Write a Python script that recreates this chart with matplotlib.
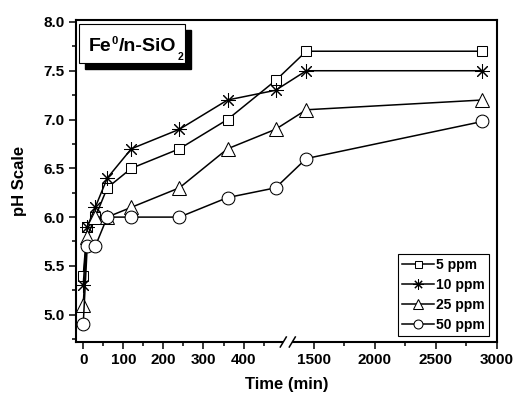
import numpy as np
import matplotlib
matplotlib.use('Agg')
import matplotlib.pyplot as plt
from matplotlib.patches import Rectangle
from matplotlib.ticker import FixedLocator, MultipleLocator, FormatStrFormatter

plt.rcParams['font.family'] = ['Liberation Sans', 'DejaVu Sans']
plt.rcParams['font.weight'] = 'bold'
plt.rcParams['axes.labelweight'] = 'bold'

# --- data (pH vs time, min) ---
time_min = [0, 10, 30, 60, 120, 240, 360, 480, 1440, 2880]
ph_5ppm = [5.4, 5.9, 6.0, 6.3, 6.5, 6.7, 7.0, 7.4, 7.7, 7.7]
ph_10ppm = [5.3, 5.9, 6.1, 6.4, 6.7, 6.9, 7.2, 7.3, 7.5, 7.5]
ph_25ppm = [5.1, 5.8, 6.0, 6.0, 6.1, 6.3, 6.7, 6.9, 7.1, 7.2]
ph_50ppm = [4.9, 5.7, 5.7, 6.0, 6.0, 6.0, 6.2, 6.3, 6.6, 6.98]
labels = ['5 ppm', '10 ppm', '25 ppm', '50 ppm']

x_major = [0, 100, 200, 300, 400, 1500, 2000, 2500, 3000]
x_minor = [50, 150, 250, 350, 450, 1750, 2250, 2750]

# broken axis: 0-510 linear, 510-1290 squeezed, 1290-3000 compressed
BRK_LO, BRK_HI = 510.0, 1290.0
K_RIGHT = 0.305
EPS = 0.001
_xp = np.array([-1e4, BRK_LO, BRK_HI, 1e5])
_fp = np.array([-1e4, BRK_LO, BRK_LO + (BRK_HI - BRK_LO) * EPS,
                BRK_LO + (BRK_HI - BRK_LO) * EPS + (1e5 - BRK_HI) * K_RIGHT])


def fwd(t):
    return np.interp(t, _xp, _fp)


def inv(u):
    return np.interp(u, _fp, _xp)


fig = plt.figure(figsize=(5.21, 3.99), dpi=100)
ax = fig.add_axes([76 / 521, 1 - 342 / 399, 421 / 521, 322 / 399])
ax.set_xscale('function', functions=(fwd, inv))

styles = [
    dict(marker='s', markersize=7.2),
    dict(marker=(8, 2, 0), markersize=10.5),
    dict(marker='^', markersize=9.5),
    dict(marker='o', markersize=9.2),
]
for ys, lab, st in zip([ph_5ppm, ph_10ppm, ph_25ppm, ph_50ppm], labels, styles):
    ax.plot(time_min, ys, color='black', lw=1.1, markerfacecolor='white',
            markeredgecolor='black', markeredgewidth=0.75, label=lab, **st)

XMIN, XMAX = -18, 3000
ax.set_xlim(XMIN, XMAX)
ax.set_ylim(4.72, 8.02)

ax.xaxis.set_major_locator(FixedLocator(x_major))
ax.xaxis.set_minor_locator(FixedLocator(x_minor))
ax.yaxis.set_major_locator(MultipleLocator(0.5))
ax.yaxis.set_minor_locator(MultipleLocator(0.25))
ax.yaxis.set_major_formatter(FormatStrFormatter('%.1f'))
ax.xaxis.set_major_formatter(FormatStrFormatter('%d'))

ax.tick_params(which='major', direction='out', length=5, width=1.1,
               labelsize=11, pad=3)
ax.tick_params(which='minor', direction='out', length=2.8, width=1.1)
ax.tick_params(top=False, right=False, which='both')
for sp in ax.spines.values():
    sp.set_linewidth(1.5)

ax.set_xlabel('Time (min)', fontsize=12, labelpad=7)
ax.set_ylabel('pH Scale', fontsize=12, labelpad=12)

# break marks on the bottom axis
u0, u1 = fwd(XMIN), fwd(XMAX)
b = (fwd(0.5 * (BRK_LO + BRK_HI)) - u0) / (u1 - u0)
dx = 4.5 / 421
ax.plot([b - dx, b + dx], [0, 0], transform=ax.transAxes, color='white',
        lw=3, clip_on=False, zorder=5, solid_capstyle='butt')
for off in (-dx, dx):
    ax.plot([b + off - 3 / 421, b + off + 3 / 421], [-5 / 322, 5 / 322],
            transform=ax.transAxes, color='black', lw=1.1, clip_on=False,
            zorder=6)

# label box with shadow
bx, by, bw, bh = 3.3 / 421, 1 - 43.3 / 322, 105.7 / 421, 39.3 / 322
ax.add_patch(Rectangle((bx + 6 / 421, by - 6 / 322), bw, bh,
                       transform=ax.transAxes, facecolor='black',
                       edgecolor='black', zorder=7))
ax.add_patch(Rectangle((bx, by), bw, bh, transform=ax.transAxes,
                       facecolor='white', edgecolor='black', lw=0.8, zorder=8))
t1 = ax.text(bx + 9.5 / 421, 1 - 31 / 322, 'Fe', transform=ax.transAxes,
             ha='left', va='baseline', fontsize=14, zorder=9)
t2 = ax.annotate('0', xy=(1, 1), xycoords=t1, xytext=(0.4, 1.5),
                 textcoords='offset points', ha='left', va='top',
                 fontsize=8, zorder=9)
t3 = ax.annotate('/n-SiO', xy=(1, 0), xycoords=(t2, t1), xytext=(0.4, 0),
                 textcoords='offset points', ha='left', va='bottom',
                 fontsize=14, zorder=9, annotation_clip=False)
ax.annotate('2', xy=(1.0, 0.0), xycoords=t3, xytext=(0.8, -1.2),
            textcoords='offset points', ha='left', va='center',
            fontsize=7.5, zorder=9)

leg = ax.legend(loc='lower right', bbox_to_anchor=(1 - 8 / 421, 6 / 322),
                borderaxespad=0, fontsize=10, markerscale=0.7,
                handlelength=2.3, handletextpad=0.15, labelspacing=0.42,
                borderpad=0.3, fancybox=False, framealpha=1,
                edgecolor='black')
leg.get_frame().set_linewidth(0.8)

fig.savefig('out.png', dpi=100)
